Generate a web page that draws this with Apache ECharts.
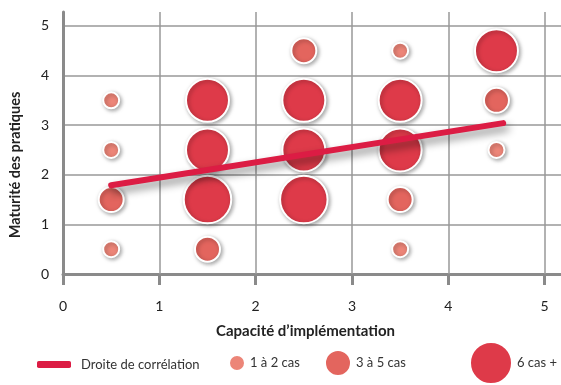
<!DOCTYPE html>
<html><head><meta charset="utf-8">
<script src="https://cdn.jsdelivr.net/npm/echarts@6/dist/echarts.min.js"></script>
<style>html,body{margin:0;padding:0;background:#fff}#c{width:561px;height:385px}</style>
</head><body><div id="c"></div>
<script>
// Tick labels
const xTicks = [0, 1, 2, 3, 4, 5];
const yTicks = [0, 1, 2, 3, 4, 5];
// Bubbles: [capacité, maturité, nombre de cas]
const small = [[0.5, 3.5, 2], [0.5, 2.5, 2], [0.5, 0.5, 2], [3.5, 4.5, 2], [3.5, 0.5, 2], [4.5, 2.5, 2]];
const medium = [[0.5, 1.5, 4], [1.5, 0.5, 4], [2.5, 4.5, 4], [3.5, 1.5, 4], [4.5, 3.5, 4]];
const large = [[1.5, 3.5, 8], [1.5, 2.5, 8], [1.5, 1.5, 9], [2.5, 3.5, 8], [2.5, 2.5, 8], [2.5, 1.5, 9], [3.5, 3.5, 8], [3.5, 2.5, 8], [4.5, 4.5, 8]];
// Correlation line
const corr = [[0.5, 1.79], [4.57, 3.04]];
const seriesNames = ['Droite de corrélation', '1 à 2 cas', '3 à 5 cas', '6 cas +'];
const colors = ['#DC1C44', '#EC8578', '#E3655E', '#DE3A49'];

const sizeOf = v => 4.5 * v[2] + 7;
const font = 'Lato, "Open Sans", sans-serif';
const bubbleStyle = c => ({
  color: c, opacity: 1, borderColor: '#fff', borderWidth: 2,
  shadowColor: 'rgba(0,0,0,0.35)', shadowBlur: 4, shadowOffsetX: 1.5, shadowOffsetY: 1.5
});
const chart = echarts.init(document.getElementById('c'));
const legendBase = {orient: 'horizontal', itemGap: 0, padding: 0, textStyle: {fontFamily: font, fontSize: 13, color: '#333'}, selectedMode: false};
chart.setOption({
  animation: false,
  grid: {left: 62, right: 0, top: 12, bottom: 111},
  xAxis: {
    type: 'value', min: 0, max: 5.17,
    name: 'Capacité d’implémentation', nameLocation: 'middle', nameGap: 50,
    nameTextStyle: {fontFamily: font, fontSize: 15, fontWeight: 'bold', color: '#222', padding: [0, 13, 0, 0]},
    axisLine: {show: true, lineStyle: {color: '#8a8a8a', width: 3}},
    axisTick: {show: true, customValues: xTicks, length: 11, lineStyle: {color: '#8a8a8a', width: 3}},
    axisLabel: {customValues: xTicks, margin: 25, fontFamily: font, fontSize: 14, color: '#222'},
    splitLine: {show: false}
  },
  yAxis: {
    type: 'value', min: 0, max: 5.28,
    name: 'Maturité des pratiques', nameLocation: 'middle', nameGap: 40, nameRotate: 90,
    nameTextStyle: {fontFamily: font, fontSize: 14.5, fontWeight: 'bold', color: '#222', padding: [0, 44, 0, 0]},
    axisLine: {show: true, lineStyle: {color: '#8a8a8a', width: 3}},
    axisTick: {show: false, customValues: yTicks},
    axisLabel: {customValues: yTicks, margin: 14, fontFamily: font, fontSize: 14, color: '#222'},
    splitLine: {show: true, lineStyle: {color: '#999', width: 1.5}}
  },
  legend: [
    Object.assign({}, legendBase, {data: [{name: seriesNames[0], icon: 'roundRect'}], left: 37, top: 358, itemWidth: 34, itemHeight: 7,
      textStyle: {fontFamily: font, fontSize: 13, color: '#333', padding: [0, 0, 0, 5]},
      itemStyle: {color: colors[0], borderWidth: 0}}),
    Object.assign({}, legendBase, {data: [{name: seriesNames[1], icon: 'circle'}], left: 228, top: 354, itemWidth: 16, itemHeight: 16}),
    Object.assign({}, legendBase, {data: [{name: seriesNames[2], icon: 'circle'}], left: 324, top: 349, itemWidth: 26, itemHeight: 26}),
    Object.assign({}, legendBase, {data: [{name: seriesNames[3], icon: 'circle'}], left: 469, top: 341, itemWidth: 42, itemHeight: 42})
  ],
  series: [
    {
      name: seriesNames[1], type: 'scatter', data: small, symbolSize: sizeOf,
      itemStyle: bubbleStyle(colors[1]), z: 3
    },
    {
      name: seriesNames[2], type: 'scatter', data: medium, symbolSize: sizeOf,
      itemStyle: bubbleStyle(colors[2]), z: 3
    },
    {
      name: seriesNames[3], type: 'scatter', data: large, symbolSize: sizeOf,
      itemStyle: bubbleStyle(colors[3]), z: 3,
      markLine: {
        silent: true, symbol: 'none', label: {show: false}, z: 1,
        lineStyle: {color: '#999', width: 1.5, type: 'solid'},
        data: xTicks.filter(v => v > 0).map(v => ({xAxis: v}))
      }
    },
    {
      name: seriesNames[0], type: 'line', data: corr, showSymbol: false, symbol: 'none', z: 5,
      lineStyle: {color: colors[0], width: 6, cap: 'round', shadowColor: 'rgba(0,0,0,0.45)', shadowBlur: 8, shadowOffsetX: 3, shadowOffsetY: 5},
      itemStyle: {color: colors[0]}
    }
  ]
});
</script></body></html>
